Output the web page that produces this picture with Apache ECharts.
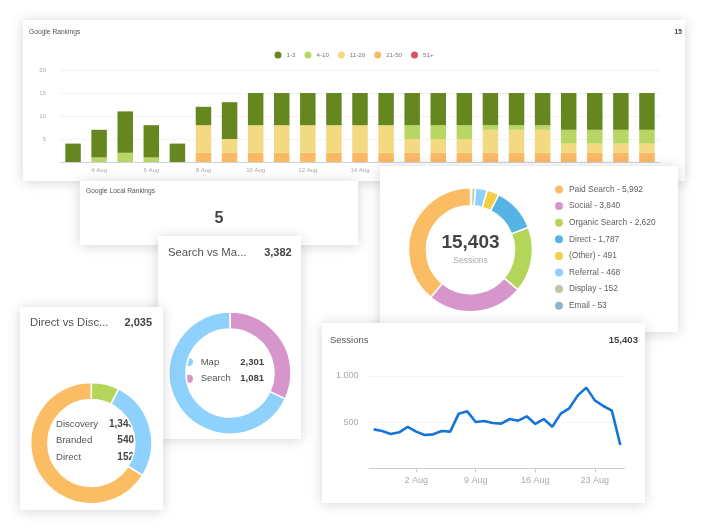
<!DOCTYPE html>
<html><head><meta charset="utf-8">
<script src="https://cdn.jsdelivr.net/npm/echarts@6/dist/echarts.min.js"></script>
<style>
html,body{margin:0;padding:0;background:#fff;width:705px;height:530px;overflow:hidden}
.card{position:absolute;background:#fff;box-shadow:0 1px 12px rgba(0,0,0,.17);overflow:hidden}
canvas{filter:blur(.3px)}
</style></head><body>
<script>
const FONT = '"Liberation Sans", Arial, sans-serif';

const rankDays = ['3 Aug','4 Aug','5 Aug','6 Aug','7 Aug','8 Aug','9 Aug','10 Aug','11 Aug','12 Aug','13 Aug','14 Aug','15 Aug','16 Aug','17 Aug','18 Aug','19 Aug','20 Aug','21 Aug','22 Aug','23 Aug','24 Aug','25 Aug'];
const rank1to3   = [4,6,9,7,4,4,8,7,7,7,7,7,7,7,7,7,7,7,7,8,8,8,8];
const rank4to10  = [0,1,2,1,0,0,0,0,0,0,0,0,0,3,3,3,1,1,1,3,3,3,3];
const rank11to20 = [0,0,0,0,0,6,3,6,6,6,6,6,6,3,3,3,5,5,5,2,2,2,2];
const rank21to50 = [0,0,0,0,0,2,2,2,2,2,2,2,2,2,2,2,2,2,2,2,2,2,2];
const rank51plus = [0,0,0,0,0,0,0,0,0,0,0,0,0,0,0,0,0,0,0,0,0,0,0];

const channelNames  = ['Paid Search','Social','Organic Search','Direct','(Other)','Referral','Display','Email'];
const channelValues = [5992,3840,2620,1787,491,468,152,53];
const channelColors = ['#fbbd63','#d696cb','#b3d65a','#56b4e4','#f6cd45','#8ed1fc','#c3c3a6','#93b6c6'];

const mapNames  = ['Map','Search'];
const mapValues = [2301,1081];
const brandNames  = ['Discovery','Branded','Direct'];
const brandValues = [1343,540,152];

const sessionDays = ['28 Jul','29 Jul','30 Jul','31 Jul','1 Aug','2 Aug','3 Aug','4 Aug','5 Aug','6 Aug','7 Aug','8 Aug','9 Aug','10 Aug','11 Aug','12 Aug','13 Aug','14 Aug','15 Aug','16 Aug','17 Aug','18 Aug','19 Aug','20 Aug','21 Aug','22 Aug','23 Aug','24 Aug','25 Aug','26 Aug'];
const sessionValues = [422,404,372,390,448,397,361,368,404,397,592,617,502,513,491,484,534,516,563,480,534,451,592,650,790,874,736,675,625,253];

const fmt = n => n.toLocaleString('en-US');
const TITLE = '#555', BOLD = '#444', MUTED = '#aaa';

function card(x, y, w, h, build) {
  const d = document.createElement('div');
  d.className = 'card';
  d.style.cssText = `left:${x}px;top:${y}px;width:${w}px;height:${h}px`;
  document.body.appendChild(d);
  const chart = echarts.init(d, null, {renderer:'canvas', width:w, height:h});
  const t = (px, py, text, size, color, extra) => ({
    type:'text', x:px-x, y:py-y, silent:true, z:1,
    style:Object.assign({text, fontSize:size, fill:color, fontFamily:FONT, verticalAlign:'middle', align:'left'}, extra||{})
  });
  const right = {align:'right', fontWeight:'bold'};
  chart.setOption(Object.assign({animation:false, textStyle:{fontFamily:FONT}}, build(t, right, x, y)));
}

function ring(cx, cy, ro, ri, data) {
  return {type:'pie', center:[cx,cy], radius:[ri,ro], startAngle:90, silent:true, z:3, data,
    label:{show:false}, labelLine:{show:false}, itemStyle:{borderColor:'#fff', borderWidth:1.5}};
}

// Google Rankings
card(23,20,662,161,(t,right)=>{
  const s=(name,data,color)=>({name,type:'bar',stack:'r',data,barWidth:15.5,itemStyle:{color},silent:true});
  return {
    graphic:[t(29,32,'Google Rankings',6.7,TITLE), t(682,32,'15',6.7,BOLD,right)],
    legend:{left:251.5,top:31.5,itemWidth:7,itemHeight:7,itemGap:9,icon:'circle',padding:0,
      data:['1-3','4-10','11-20','21-50','51+'],textStyle:{fontSize:6.2,color:'#777',fontFamily:FONT}},
    grid:{left:37,right:25,top:50,bottom:19},
    xAxis:{type:'category',data:rankDays,
      axisLine:{lineStyle:{color:'#cfd4d8'}},axisTick:{show:false},
      axisLabel:{fontSize:6,color:MUTED,margin:5,interval:i=>i%2===1,fontFamily:FONT}},
    yAxis:{type:'value',min:0,max:20,interval:5,axisLine:{show:false},axisTick:{show:false},
      splitLine:{lineStyle:{color:'#f3f3f3'}},
      axisLabel:{fontSize:6,color:MUTED,margin:14,fontFamily:FONT,formatter:v=>v===0?'':String(v)}},
    series:[s('21-50',rank21to50,'#fbb966'),s('11-20',rank11to20,'#f3d981'),s('4-10',rank4to10,'#b7d663'),s('1-3',rank1to3,'#668720'),s('51+',rank51plus,'#d9545f')]
  };
});

// Google Local Rankings
card(80,181,278,64,(t)=>({
  graphic:[t(86,191,'Google Local Rankings',6.7,TITLE), t(219,218.5,'5',16,BOLD,{align:'center',fontWeight:'bold'})]
}));

// Sessions by channel donut
card(380,166,298,166,(t)=>{
  const data=channelNames.map((name,i)=>({name,value:channelValues[i],itemStyle:{color:channelColors[i]}})).reverse();
  return {
    graphic:[t(470.5,243,fmt(channelValues.reduce((a,b)=>a+b,0)),19,BOLD,{align:'center',fontWeight:'bold'}),
             t(470.5,261,'Sessions',8.5,MUTED,{align:'center'})],
    legend:{orient:'vertical',left:173,top:17.5,icon:'circle',itemWidth:10,itemHeight:10,itemGap:4.6,padding:0,
      data:channelNames,
      formatter:n=>n+' - '+fmt(channelValues[channelNames.indexOf(n)]),
      textStyle:{fontSize:8.4,lineHeight:10,color:'#5f5f5f',fontFamily:FONT}},
    series:[ring(90.5,83.7,62,44,data)]
  };
});

// Search vs Map
card(158,236,143,203,(t,right)=>{
  const cols=['#8ed1fc','#d696cb'];
  const ys=[362,378.7];
  const items=[];
  mapNames.forEach((n,i)=>{
    items.push({type:'circle',silent:true,z:1,shape:{cx:189-158,cy:ys[i]-236,r:4},style:{fill:cols[i]}});
    items.push(t(200.7,ys[i],n,9.5,'#555'));
    items.push(t(264,ys[i],fmt(mapValues[i]),9.5,BOLD,right));
  });
  return {
    graphic:[t(168,252.7,'Search vs Ma...',11.3,TITLE),
             t(291.7,252.7,fmt(mapValues[0]+mapValues[1]),11,BOLD,right),...items],
    series:[ring(72,137,61,44,[{name:'Search',value:mapValues[1],itemStyle:{color:cols[1]}},{name:'Map',value:mapValues[0],itemStyle:{color:cols[0]}}])]
  };
});

// Sessions line
card(322,323,323,180,(t,right)=>({
  graphic:[t(330,340,'Sessions',9.5,TITLE), t(638,340,fmt(15403),9.6,BOLD,right)],
  grid:{left:47.4,right:20.4,top:53,bottom:34.7},
  xAxis:{type:'category',data:sessionDays,boundaryGap:true,
    axisLine:{lineStyle:{color:'#c9ced3'}},
    axisTick:{show:true,alignWithLabel:true,length:4,lineStyle:{color:'#c9ced3'},interval:i=>i%7===5},
    axisLabel:{fontSize:9,color:MUTED,margin:8,interval:i=>i%7===5,fontFamily:FONT}},
  yAxis:{type:'value',min:0,max:1000,interval:500,axisLine:{show:false},axisTick:{show:false},
    splitLine:{lineStyle:{color:'#f0f0f0',type:'dashed'}},
    axisLabel:{fontSize:9,color:MUTED,margin:11,fontFamily:FONT,formatter:v=>v===0?'':(v===1000?'1.000':String(v))}},
  series:[{type:'line',data:sessionValues,showSymbol:false,silent:true,lineStyle:{color:'#1674d6',width:2.6},itemStyle:{color:'#1674d6'}}]
}));

// Direct vs Discovery (sits above Search vs Map)
card(20,307,143,203,(t,right)=>{
  const ys=[424,440,457];
  const items=[];
  brandNames.forEach((n,i)=>{
    items.push(t(56,ys[i],n,9.6,'#555'));
    items.push(t(134,ys[i],fmt(brandValues[i]),10,BOLD,right));
  });
  return {
    graphic:[t(30,322.7,'Direct vs Disc...',11.3,TITLE),
             t(152,322.7,fmt(brandValues.reduce((a,b)=>a+b,0)),11,BOLD,right),...items],
    series:[ring(71.3,136,60.6,43.5,[
      {name:'Direct',value:brandValues[2],itemStyle:{color:'#b3d65a'}},
      {name:'Branded',value:brandValues[1],itemStyle:{color:'#8ed1fc'}},
      {name:'Discovery',value:brandValues[0],itemStyle:{color:'#fbbd63'}}])]
  };
});
</script>
</body></html>
